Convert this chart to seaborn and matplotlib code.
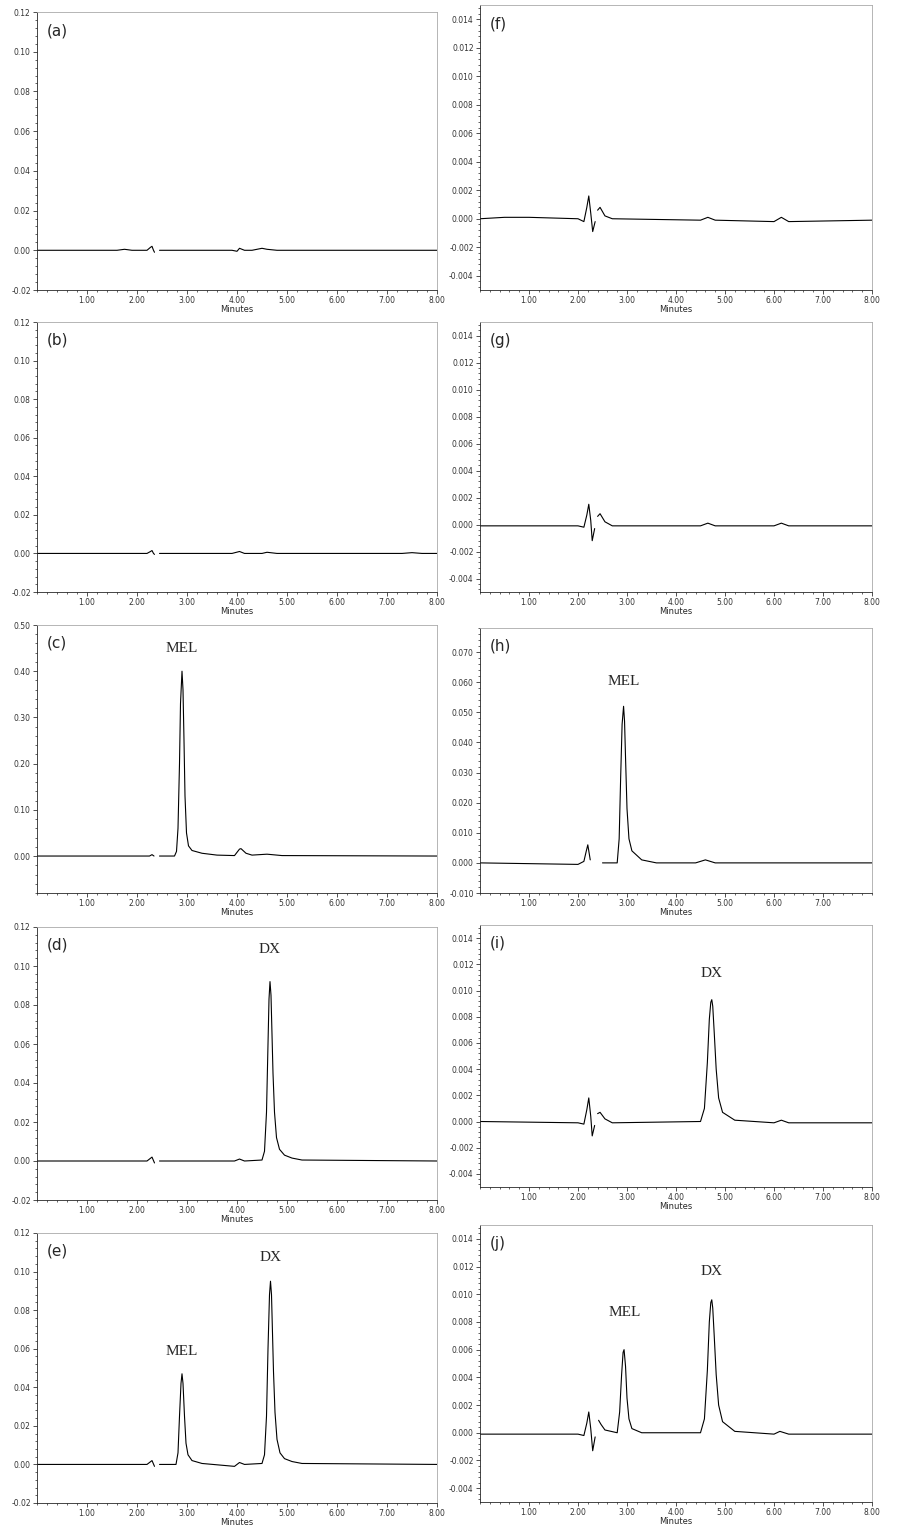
import numpy as np
import pandas as pd
import seaborn as sns
import matplotlib.pyplot as plt
from matplotlib.ticker import MultipleLocator

nan = np.nan

# chromatogram traces: minutes / absorbance, nan = gap in trace
a_t = [0, 1.6, 1.75, 1.9, 2.2, 2.27, 2.3, 2.33, 2.35, nan, 2.45, 2.6, 3.9, 4.0, 4.05, 4.15, 4.3, 4.5, 4.6, 4.8, 8]
a_y = [0, 0, 0.0005, 0, 0, 0.0015, 0.002, 0.0, -0.001, nan, 0, 0, 0, -0.0005, 0.001, 0, 0, 0.001, 0.0005, 0, 0]
b_t = [0, 2.2, 2.27, 2.3, 2.33, 2.35, nan, 2.45, 3.9, 4.05, 4.15, 4.5, 4.6, 4.8, 7.3, 7.5, 7.7, 8]
b_y = [0, 0, 0.001, 0.0015, 0.0, -0.0005, nan, 0, 0, 0.001, 0, 0, 0.0006, 0, 0, 0.0004, 0, 0]
c_t = [0, 2.25, 2.3, 2.34, nan, 2.45, 2.75, 2.79, 2.82, 2.85, 2.87, 2.9, 2.92, 2.94, 2.96, 2.99,
       3.03, 3.1, 3.3, 3.6, 3.95, 4.0, 4.05, 4.08, 4.12, 4.18, 4.3, 4.6, 4.9, 8]
c_y = [0, 0, 0.003, 0, nan, 0, 0, 0.01, 0.06, 0.2, 0.33, 0.40, 0.36, 0.25, 0.13, 0.05,
       0.022, 0.012, 0.006, 0.002, 0.001, 0.008, 0.015, 0.016, 0.012, 0.006, 0.002, 0.004, 0.001, 0]
d_t = [0, 2.2, 2.3, 2.35, nan, 2.45, 3.95, 4.05, 4.15, 4.5, 4.55, 4.59, 4.62, 4.64, 4.66, 4.68,
       4.7, 4.72, 4.75, 4.79, 4.85, 4.95, 5.1, 5.3, 8]
d_y = [0, 0, 0.002, -0.001, nan, 0, 0, 0.001, 0, 0.0005, 0.005, 0.025, 0.06, 0.083, 0.092, 0.085,
       0.065, 0.045, 0.025, 0.012, 0.006, 0.003, 0.0015, 0.0005, 0]
e_t = [0, 2.2, 2.3, 2.35, nan, 2.45, 2.78, 2.82, 2.85, 2.88, 2.9, 2.92, 2.95, 2.98, 3.02, 3.1, 3.3,
       3.95, 4.05, 4.15, 4.5, 4.55, 4.59, 4.62, 4.65, 4.67, 4.69, 4.71, 4.73, 4.76, 4.8, 4.86, 4.95,
       5.1, 5.3, 8]
e_y = [0, 0, 0.002, -0.001, nan, 0, 0, 0.006, 0.025, 0.042, 0.047, 0.042, 0.025, 0.011, 0.005,
       0.002, 0.0005, -0.001, 0.001, 0, 0.0005, 0.005, 0.025, 0.06, 0.088, 0.095, 0.088, 0.068,
       0.048, 0.027, 0.013, 0.006, 0.003, 0.0015, 0.0005, 0]
f_t = [0, 0.5, 1.0, 2.0, 2.12, 2.18, 2.22, 2.26, 2.3, 2.35, nan, 2.4, 2.45, 2.55, 2.7, 4.5,
       4.65, 4.8, 6.0, 6.15, 6.3, 8]
f_y = [0, 0.0001, 0.0001, 0, -0.0002, 0.0008, 0.0016, 0.0004, -0.0009, -0.0002, nan, 0.0006,
       0.0008, 0.0002, 0, -0.0001, 0.0001, -0.0001, -0.0002, 0.0001, -0.0002, -0.0001]
g_t = [0, 2.0, 2.12, 2.18, 2.22, 2.26, 2.29, 2.34, nan, 2.4, 2.45, 2.55, 2.7, 4.5, 4.65, 4.8,
       6.0, 6.15, 6.3, 8]
g_y = [-0.0001, -0.0001, -0.0002, 0.0007, 0.0015, 0.0003, -0.0012, -0.0003, nan, 0.0006, 0.0008,
       0.0002, -0.0001, -0.0001, 0.0001, -0.0001, -0.0001, 0.0001, -0.0001, -0.0001]
h_t = [0, 2.0, 2.12, 2.17, 2.2, 2.23, 2.25, nan, 2.5, 2.8, 2.84, 2.87, 2.9, 2.93, 2.95, 2.97,
       3.0, 3.04, 3.1, 3.3, 3.6, 4.4, 4.6, 4.8, 8]
h_y = [0, -0.0005, 0.0005, 0.004, 0.006, 0.003, 0.001, nan, 0, 0, 0.008, 0.028, 0.046, 0.052,
       0.047, 0.035, 0.018, 0.008, 0.004, 0.001, 0, 0, 0.001, 0, 0]
i_t = [0, 2.0, 2.12, 2.18, 2.22, 2.26, 2.29, 2.34, nan, 2.4, 2.45, 2.55, 2.7, 4.5, 4.58, 4.64,
       4.68, 4.71, 4.73, 4.75, 4.78, 4.82, 4.87, 4.95, 5.2, 6.0, 6.15, 6.3, 8]
i_y = [0, -0.0001, -0.0002, 0.0009, 0.0018, 0.0004, -0.0011, -0.0003, nan, 0.0006, 0.0007, 0.0002,
       -0.0001, 0, 0.001, 0.0045, 0.0078, 0.0091, 0.0093, 0.0088, 0.0068, 0.004, 0.0018, 0.0007,
       0.0001, -0.0001, 0.0001, -0.0001, -0.0001]
j_t = [0, 1.5, 2.0, 2.12, 2.18, 2.22, 2.26, 2.3, 2.35, nan, 2.42, 2.47, 2.55, 2.8, 2.85, 2.89,
       2.92, 2.94, 2.97, 3.0, 3.04, 3.1, 3.3, 4.5, 4.58, 4.64, 4.68, 4.71, 4.73, 4.75, 4.78, 4.82,
       4.87, 4.95, 5.2, 6.0, 6.12, 6.3, 8]
j_y = [-0.0001, -0.0001, -0.0001, -0.0002, 0.0007, 0.0015, 0.0003, -0.0013, -0.0003, nan, 0.0009,
       0.0006, 0.0002, 0, 0.0015, 0.0042, 0.0058, 0.006, 0.0048, 0.0025, 0.001, 0.0003, 0, 0,
       0.001, 0.0045, 0.008, 0.0094, 0.0096, 0.009, 0.007, 0.0042, 0.002, 0.0008, 0.0001,
       -0.0001, 0.0001, -0.0001, -0.0001]

panels = [
    ("(a)", a_t, a_y, [], (-0.02, 0.12), 0.02, "%.2f", [37, 12, 437, 290]),
    ("(b)", b_t, b_y, [], (-0.02, 0.12), 0.02, "%.2f", [37, 322, 437, 592]),
    ("(c)", c_t, c_y, [("MEL", 2.9, 0.435)], (-0.08, 0.50), 0.10, "%.2f", [37, 625, 437, 893]),
    ("(d)", d_t, d_y, [("DX", 4.66, 0.105)], (-0.02, 0.12), 0.02, "%.2f", [37, 927, 437, 1200]),
    ("(e)", e_t, e_y, [("MEL", 2.9, 0.055), ("DX", 4.67, 0.104)], (-0.02, 0.12), 0.02, "%.2f",
     [37, 1233, 437, 1503]),
    ("(f)", f_t, f_y, [], (-0.005, 0.015), 0.002, "%.3f", [480, 5, 872, 290]),
    ("(g)", g_t, g_y, [], (-0.005, 0.015), 0.002, "%.3f", [480, 322, 872, 592]),
    ("(h)", h_t, h_y, [("MEL", 2.93, 0.058)], (-0.01, 0.078), 0.01, "%.3f", [480, 628, 872, 893]),
    ("(i)", i_t, i_y, [("DX", 4.73, 0.0108)], (-0.005, 0.015), 0.002, "%.3f", [480, 925, 872, 1187]),
    ("(j)", j_t, j_y, [("MEL", 2.95, 0.0082), ("DX", 4.73, 0.0112)], (-0.005, 0.015), 0.002, "%.3f",
     [480, 1225, 872, 1502]),
]

sns.set_style("ticks")
plt.rcParams["font.family"] = ["DejaVu Sans"]
W, H = 902, 1534
fig = plt.figure(figsize=(W / 100, H / 100), dpi=100)

for label, t, y, peaks, ylim, step, fmt, box in panels:
    x0, y0, x1, y1 = box
    ax = fig.add_axes([x0 / W, 1 - y1 / H, (x1 - x0) / W, (y1 - y0) / H])
    df = pd.DataFrame({"t": t, "y": y})
    seg = df["t"].isna().cumsum()
    for _, part in df.dropna().groupby(seg[df["t"].notna()]):
        sns.lineplot(data=part, x="t", y="y", ax=ax, color="black", lw=0.8,
                     sort=False, estimator=None)
    ax.set_xlim(0, 8)
    ax.set_ylim(*ylim)
    ax.xaxis.set_minor_locator(MultipleLocator(0.2))
    ax.yaxis.set_minor_locator(MultipleLocator(step / 5))
    ticks = [v for v in np.arange(1, 9) if not (label == "(h)" and v == 8)]
    ax.set_xticks(ticks)
    ax.set_xticklabels(["%.2f" % v for v in ticks])
    yt = [v for v in np.round(np.arange(-0.10, 0.55, step), 4) if ylim[0] - 1e-9 <= v <= ylim[1] + 1e-9]
    ax.set_yticks(yt)
    ax.set_yticklabels([fmt % (0.0 if abs(v) < 1e-9 else v) for v in yt])
    ax.tick_params(labelsize=5.5, length=3, width=0.6, pad=1.5, colors="#333333")
    ax.tick_params(which="minor", length=1.5, width=0.5)
    ax.set_xlabel("Minutes", fontsize=6, labelpad=0)
    ax.set_ylabel("")
    for s in ax.spines.values():
        s.set_linewidth(0.6)
    for s in ("top", "right"):
        ax.spines[s].set_color("#aaaaaa")
    ax.text(0.025, 0.96, label, transform=ax.transAxes, fontsize=11, va="top", ha="left")
    for name, px, py in peaks:
        ax.text(px, py, name, fontsize=11, ha="center", va="bottom",
                family=["Liberation Serif", "DejaVu Serif"])

fig.savefig("out.png", dpi=100)
